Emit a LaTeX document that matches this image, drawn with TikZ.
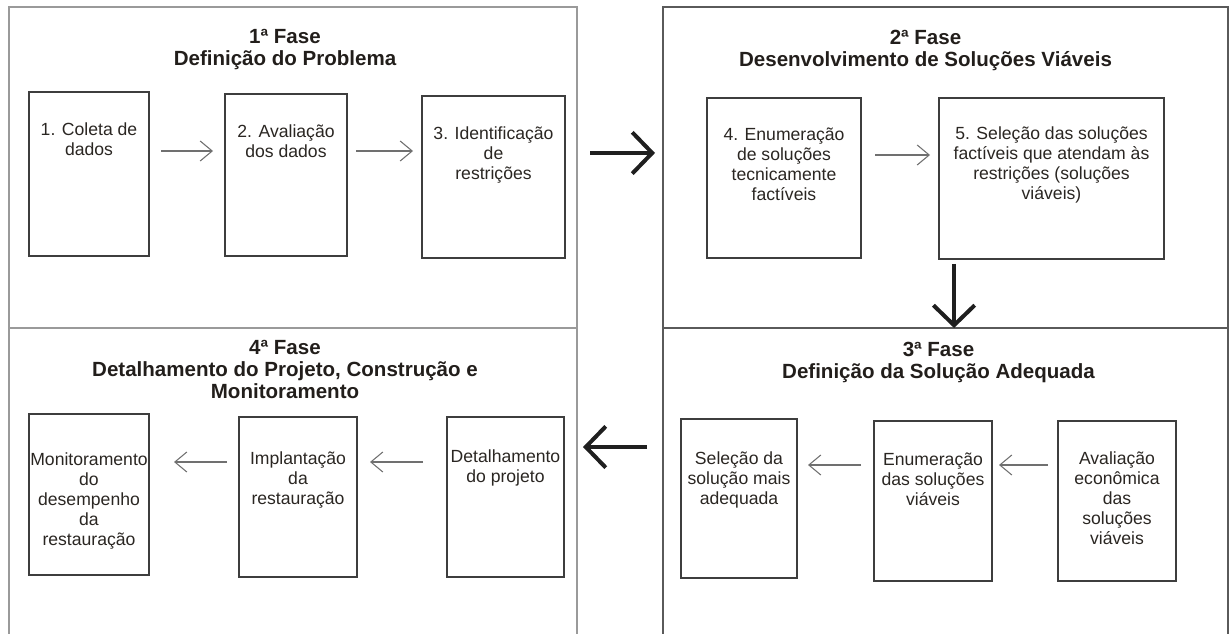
\documentclass[tikz,border=0pt]{standalone}
\usepackage{fontspec}
\setmainfont{Liberation Sans}
\usepackage{tikz}
\usetikzlibrary{arrows.meta,positioning}
\definecolor{molduraclara}{HTML}{9A9A9A}
\definecolor{molduraescura}{HTML}{5A5A5A}
\definecolor{caixacor}{HTML}{3E3E3E}
\definecolor{setacor}{HTML}{707070}
\definecolor{textocor}{HTML}{2A2622}
\tikzset{
  fase/.style 2 args={draw=#1, line width=1.1pt, inner sep=0pt, outer sep=0pt, minimum width=#2},
  etapa/.style 2 args={draw=caixacor, line width=1pt, inner sep=0pt, outer sep=0pt, minimum width=#1, minimum height=#2},
  rotulo/.style={align=center, inner sep=0pt, text=textocor, font=\fontsize{13.2}{15}\selectfont},
  titulo/.style={align=center, inner sep=0pt, text=textocor!80!black, font=\fontsize{15.4}{16.5}\selectfont\bfseries},
  fluxo/.style={draw=setacor, line width=0.8pt, -{Straight Barb[length=9pt,width=15pt]}},
  salto/.style={draw=black!88, line width=3pt, -{Straight Barb[length=15pt,width=31pt]}}
}

\begin{document}
\begin{tikzpicture}[x=0.75pt,y=-0.75pt]
   \useasboundingbox (0,0) rectangle (1230,634);
   \node[fase={molduraclara}{426pt}, minimum height=240.75pt] (p1) at (293,167.5) {};
   \node[fase={molduraescura}{423.75pt}, minimum height=240.75pt] (p2) at (945.5,167.5) {};
   \node[fase={molduraescura}{423.75pt}, minimum height=234pt] (p3) at (945.5,484) {};
   \node[fase={molduraclara}{426pt}, minimum height=234pt] (p4) at (293,484) {};

   \node[titulo, below=16.5pt of p1.north, xshift=-6pt] (f1) {1ª Fase\\Definição do Problema};
   \node[titulo, below=17pt of p2.north, xshift=-15pt] (f2) {2ª Fase\\Desenvolvimento de Soluções Viáveis};
   \node[titulo, below=10.5pt of p3.north, xshift=-5.25pt] (f3) {3ª Fase\\Definição da Solução Adequada};
   \node[titulo, below=9pt of p4.north, xshift=-6pt] (f4) {4ª Fase\\Detalhamento do Projeto, Construção e\\Monitoramento};

   \node[etapa={90pt}{123pt}] (b1) at (89,174) {};
   \node[etapa={91.5pt}{121.5pt}] (b2) at (286,175) {};
   \node[etapa={107.25pt}{121.5pt}] (b3) at (493.5,177) {};
   \node[etapa={115.5pt}{120pt}] (b4) at (784,178) {};
   \node[etapa={168.75pt}{120.75pt}] (b5) at (1051.5,178.5) {};
   \node[etapa={88.5pt}{120pt}] (b6) at (1117,501) {};
   \node[etapa={88.5pt}{120pt}] (b7) at (933,501) {};
   \node[etapa={87pt}{119.25pt}] (b8) at (739,498.5) {};
   \node[etapa={87.75pt}{120pt}] (b9) at (505.5,497) {};
   \node[etapa={88.5pt}{120pt}] (b10) at (298,497) {};
   \node[etapa={90pt}{120.75pt}] (b11) at (89,494.5) {};

   \node[rotulo, below=23pt of b1.north] (t1) {1. Coleta de\\dados};
   \node[rotulo, below=22.5pt of b2.north] (t2) {2. Avaliação\\dos dados};
   \node[rotulo, below=22.5pt of b3.north] (t3) {3. Identificação\\de\\restrições};
   \node[rotulo, below=22.5pt of b4.north] (t4) {4. Enumeração\\de soluções\\tecnicamente\\factíveis};
   \node[rotulo, below=21pt of b5.north] (t5) {5. Seleção das soluções\\factíveis que atendam às\\restrições (soluções\\viáveis)};
   \node[rotulo, below=23pt of b6.north] (t6) {Avaliação\\econômica\\das\\soluções\\viáveis};
   \node[rotulo, below=24pt of b7.north] (t7) {Enumeração\\das soluções\\viáveis};
   \node[rotulo, below=24.5pt of b8.north] (t8) {Seleção da\\solução mais\\adequada};
   \node[rotulo, below=24.5pt of b9.north] (t9) {Detalhamento\\do projeto};
   \node[rotulo, below=26pt of b10.north] (t10) {Implantação\\da\\restauração};
   \node[rotulo, below=29pt of b11.north] (t11) {Monitoramento\\do\\desempenho\\da\\restauração};

   \draw[fluxo, shorten <=9pt, shorten >=9pt] ([yshift=17.25pt]b1.east) -- ([yshift=17.25pt]b1.east -| b2.west);
   \draw[fluxo, shorten <=6.75pt, shorten >=6.75pt] ([yshift=18pt]b2.east) -- ([yshift=18pt]b2.east -| b3.west);
   \draw[fluxo, shorten <=10.5pt, shorten >=6.75pt] ([yshift=17.25pt]b4.east) -- ([yshift=17.25pt]b4.east -| b5.west);
   \draw[fluxo, shorten <=7.5pt, shorten >=5.25pt] ([yshift=27pt]b6.west) -- ([yshift=27pt]b6.west -| b7.east);
   \draw[fluxo, shorten <=9.75pt, shorten >=8.25pt] ([yshift=27pt]b7.west) -- ([yshift=27pt]b7.west -| b8.east);
   \draw[fluxo, shorten <=18pt, shorten >=9.75pt] ([yshift=26.25pt]b9.west) -- ([yshift=26.25pt]b9.west -| b10.east);
   \draw[fluxo, shorten <=9pt, shorten >=18.75pt] ([yshift=26.25pt]b10.west) -- ([yshift=26.25pt]b10.west -| b11.east);

   \draw[salto, shorten <=9.75pt, shorten >=6pt] ([yshift=10.9pt]p1.east) -- ([yshift=10.9pt]p1.east -| p2.west);
   \draw[salto, shorten <=3.75pt] ([xshift=-73.1pt]b5.south) -- ([xshift=-73.1pt]b5.south |- p3.north);
   \draw[salto, shorten <=12pt, shorten >=4.5pt] ([yshift=27.75pt]p3.west) -- ([yshift=27.75pt]p3.west -| p4.east);
\end{tikzpicture}
\end{document}
